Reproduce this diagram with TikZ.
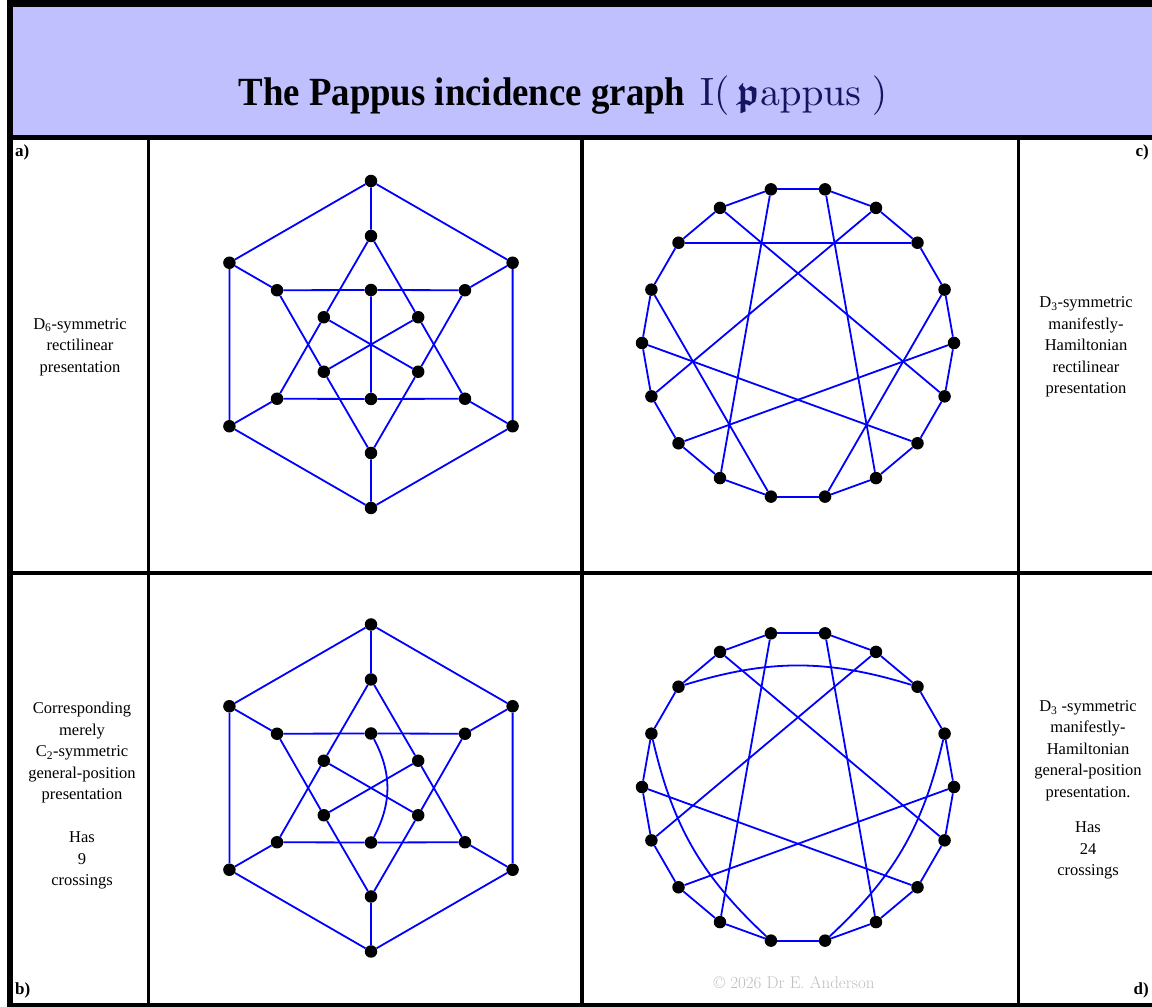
\documentclass[tikz,border=0pt]{standalone}
\usepackage[no-math]{fontspec}
\setmainfont{Liberation Serif}
\usepackage{amsmath,amssymb}
\usepackage{tikz}
\usetikzlibrary{positioning}
\definecolor{bandlav}{RGB}{192,192,255}
\definecolor{titlenavy}{RGB}{20,20,95}
\definecolor{markgray}{RGB}{190,190,190}

\begin{document}
\begin{tikzpicture}[x=1pt,y=1pt,
  pvert/.style={circle,fill=black,inner sep=0pt,minimum size=12.5pt},
  pedge/.style={blue,line width=1.8pt},
  blurb/.style={align=center,font=\fontsize{16.5}{21.5}\selectfont},
  tag/.style={font=\fontsize{17}{19}\selectfont\bfseries,inner sep=0pt}]
\useasboundingbox (0,0) rectangle (1152,1007);
\clip (0,0) rectangle (1152,1007);
% frame and title band
\fill[bandlav] (13,872) rectangle (1160,1000);
\fill (7,1000) rectangle (1160,1007);
\fill (7,0) rectangle (13,1007);
\fill (7,867) rectangle (1160,872);
\fill (7,432) rectangle (1160,436);
\fill (7,0) rectangle (1160,4);
\fill (146.5,0) rectangle (149.5,867);
\fill (580,0) rectangle (584,867);
\fill (1016.5,0) rectangle (1019.5,867);
% title
\node[font=\fontsize{40}{42}\selectfont\bfseries,xscale=0.92,anchor=base] (ttl) at (462,901) {The Pappus incidence graph};
\node[anchor=base west,scale=3.95,text=titlenavy,inner sep=0pt] (ttlm) at (699,901) {$\mathrm{I}(\,\boldsymbol{\mathfrak{p}}\mathrm{appus}\;)$};
% panel tags
\node[tag,anchor=north west] (taga) at (15,862) {a)};
\node[tag,anchor=north east] (tagc) at (1149,862) {c)};
\node[tag,anchor=base west] (tagb) at (15,12) {b)};
\node[tag,anchor=base east] (tagd) at (1149,12) {d)};
% side texts
\node[blurb] (txta) at (80,660) {D\textsubscript{6}-symmetric\\rectilinear\\presentation};
\node[blurb] (txtc) at (1086,660) {D\textsubscript{3}-symmetric\\manifestly-\\Hamiltonian\\rectilinear\\presentation};
\node[blurb] (txtb) at (82,211) {Corresponding\\merely\\C\textsubscript{2}-symmetric\\general-position\\presentation\\[21.5pt]Has\\9\\crossings};
\node[blurb] (txtd) at (1088,217) {D\textsubscript{3} -symmetric\\manifestly-\\Hamiltonian\\general-position\\presentation.\\[14pt]Has\\24\\crossings};
\node[font=\fontfamily{lmr}\fontsize{17}{20}\selectfont,text=markgray] (copy) at (794,24) {\textcopyright\ 2026 Dr E. Anderson};

% a) rectilinear hexagonal presentation
\begin{scope}[shift={(371,662.5)}]
\foreach \k in {0,...,5}{
  \node[pvert] (ao\k) at ({30+60*\k}:163.5) {};
  \node[pvert] (am\k) at ({30+60*\k}:108.5) {};
  \node[pvert] (ai\k) at ({30+60*\k}:54.5) {};
}
\foreach \k in {0,...,5}{
  \pgfmathtruncatemacro{\n}{mod(\k+1,6)}
  \pgfmathtruncatemacro{\p}{mod(\k+5,6)}
  \draw[pedge] (ao\k) -- (ao\n) (ao\k) -- (am\k) (am\k) -- (ai\n) (am\k) -- (ai\p);
}
\draw[pedge] (ai0) -- (ai3) (ai1) -- (ai4) (ai2) -- (ai5);
\end{scope}

% b) general-position presentation
\begin{scope}[shift={(371,219)}]
\foreach \k in {0,...,5}{
  \node[pvert] (bo\k) at ({30+60*\k}:163.5) {};
  \node[pvert] (bm\k) at ({30+60*\k}:108.5) {};
  \node[pvert] (bi\k) at ({30+60*\k}:54.5) {};
}
\foreach \k in {0,...,5}{
  \pgfmathtruncatemacro{\n}{mod(\k+1,6)}
  \pgfmathtruncatemacro{\p}{mod(\k+5,6)}
  \draw[pedge] (bo\k) -- (bo\n) (bo\k) -- (bm\k) (bm\k) -- (bi\n) (bm\k) -- (bi\p);
}
\draw[pedge] (bi0) -- (bi3) (bi2) -- (bi5);
\draw[pedge] (bi1) to[bend left=28] (bi4);
\end{scope}

% c) Hamiltonian rectilinear presentation
\begin{scope}[shift={(798,664)}]
\foreach \k in {0,...,17}
  \node[pvert] (cv\k) at ({20*\k}:156) {};
\foreach \k in {0,...,17}{
  \pgfmathtruncatemacro{\n}{mod(\k+1,18)}
  \draw[pedge] (cv\k) -- (cv\n);
}
\foreach \s/\t in {0/11,1/14,7/2,3/10,4/15,5/12,6/17,8/13,9/16}
  \draw[pedge] (cv\s) -- (cv\t);
\end{scope}

% d) Hamiltonian general-position presentation
\begin{scope}[shift={(798,220)}]
\foreach \k in {0,...,17}
  \node[pvert] (dv\k) at ({20*\k}:156) {};
\foreach \k in {0,...,17}{
  \pgfmathtruncatemacro{\n}{mod(\k+1,18)}
  \draw[pedge] (dv\k) -- (dv\n);
}
\foreach \s/\t in {0/11,3/10,4/15,5/12,6/17,9/16}
  \draw[pedge] (dv\s) -- (dv\t);
\draw[pedge] (dv7) to[bend left=17] (dv2);
\draw[pedge] (dv8) to[bend right=17] (dv13);
\draw[pedge] (dv1) to[bend left=17] (dv14);
\end{scope}
\end{tikzpicture}
\end{document}
